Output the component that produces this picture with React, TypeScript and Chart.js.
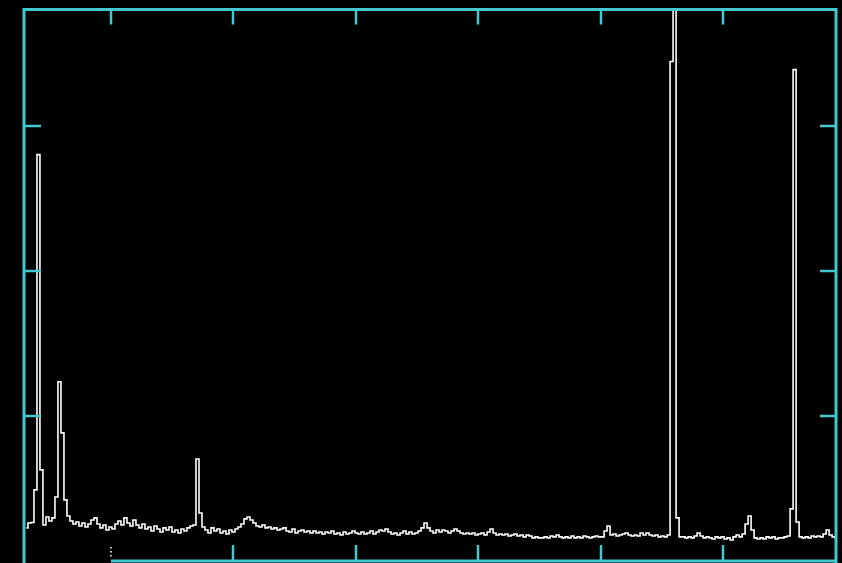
import React, { useEffect, useRef } from "react";
import { Chart, registerables } from "chart.js";

Chart.register(...registerables);

// Channel calibration (keV): energy of channel i = E0 + i * DE
const E0 = 0.31;
const DE = 0.0245;
const X_MIN = 0.29;
const X_MAX = 6.92;
const Y_MIN = 0;
const Y_MAX = 3800;

const X_TICKS = [1, 2, 3, 4, 5, 6];
const Y_TICKS = [1000, 2000, 3000];

// counts per channel
const COUNTS = [
  228, 262, 265, 490, 2800, 628, 248, 303, 276, 297,
  441, 1235, 883, 421, 310, 276, 255, 269, 241, 262,
  234, 255, 283, 297, 255, 228, 248, 214, 234, 221,
  255, 276, 248, 297, 262, 241, 283, 248, 228, 255,
  221, 234, 207, 241, 221, 200, 228, 214, 234, 200,
  214, 193, 221, 207, 228, 241, 248, 703, 331, 234,
  214, 193, 228, 207, 221, 193, 207, 186, 214, 200,
  221, 234, 255, 290, 303, 283, 262, 241, 234, 248,
  228, 234, 221, 228, 214, 221, 228, 207, 200, 221,
  193, 207, 214, 200, 207, 193, 207, 193, 200, 186,
  200, 193, 207, 186, 193, 179, 200, 186, 193, 207,
  193, 186, 200, 186, 193, 207, 186, 200, 214, 207,
  221, 200, 186, 193, 179, 193, 207, 186, 200, 186,
  193, 207, 228, 262, 228, 207, 193, 214, 200, 214,
  207, 193, 207, 221, 207, 193, 186, 193, 186, 193,
  179, 186, 193, 179, 200, 221, 193, 179, 186, 179,
  186, 172, 179, 186, 172, 179, 166, 179, 172, 159,
  166, 159, 159, 166, 159, 172, 166, 179, 166, 159,
  166, 159, 172, 159, 166, 159, 172, 166, 159, 166,
  172, 166, 166, 207, 241, 179, 186, 172, 179, 186,
  193, 179, 172, 179, 172, 193, 179, 193, 179, 172,
  179, 166, 172, 166, 179, 3442, 6000, 297, 166, 166,
  159, 166, 159, 172, 193, 172, 159, 166, 159, 152,
  166, 159, 166, 152, 159, 145, 166, 179, 166, 186,
  255, 310, 214, 159, 152, 159, 152, 166, 159, 166,
  152, 159, 159, 166, 172, 359, 3386, 269, 166, 159,
  166, 159, 172, 166, 172, 166, 186, 214, 179, 166,
  159,
];

const FRAME_COLOR = "#43c8d0";
const LINE_COLOR = "#ffffff";

const framePlugin = {
  id: "frame",
  beforeDraw(chart: any) {
    const { ctx, width, height } = chart;
    ctx.save();
    ctx.fillStyle = "#000000";
    ctx.fillRect(0, 0, width, height);
    ctx.restore();
  },
  afterDraw(chart: any) {
    const { ctx, chartArea } = chart;
    const { left, right, top, bottom } = chartArea;
    const xs = chart.scales.x;
    const ys = chart.scales.y;
    ctx.save();
    ctx.strokeStyle = FRAME_COLOR;
    ctx.lineWidth = 3;
    ctx.lineCap = "butt";
    const x1 = xs.getPixelForValue(X_TICKS[0]);
    ctx.beginPath();
    // left, top, right, bottom (bottom starts at first tick)
    ctx.moveTo(left, bottom + 2);
    ctx.lineTo(left, top);
    ctx.lineTo(right, top);
    ctx.lineTo(right, bottom + 2);
    ctx.moveTo(x1, bottom);
    ctx.lineTo(right, bottom);
    ctx.stroke();
    ctx.lineWidth = 2.5;
    X_TICKS.forEach((v, i) => {
      const px = Math.round(xs.getPixelForValue(v));
      ctx.beginPath();
      ctx.moveTo(px, top);
      ctx.lineTo(px, top + 15);
      ctx.stroke();
      if (i > 0) {
        ctx.beginPath();
        ctx.moveTo(px, bottom);
        ctx.lineTo(px, bottom - 16);
        ctx.stroke();
      }
    });
    Y_TICKS.forEach((v) => {
      const py = Math.round(ys.getPixelForValue(v));
      ctx.beginPath();
      ctx.moveTo(left, py);
      ctx.lineTo(left + 17, py);
      ctx.moveTo(right, py);
      ctx.lineTo(right - 16, py);
      ctx.stroke();
    });
    // dotted first bottom tick
    ctx.fillStyle = "#b8c8c8";
    for (let k = 0; k < 3; k++) {
      ctx.fillRect(x1 - 1, bottom - 14 + k * 4, 2, 1.5);
    }
    ctx.restore();
  },
};

export default function App() {
  const ref = useRef<HTMLCanvasElement | null>(null);
  useEffect(() => {
    document.body.style.margin = "0";
    document.body.style.background = "#000";
    const canvas = ref.current;
    if (!canvas) return;
    const data = COUNTS.map((c, i) => ({ x: E0 + i * DE, y: c }));
    const chart = new Chart(canvas, {
      type: "line",
      data: {
        datasets: [
          {
            data,
            borderColor: LINE_COLOR,
            borderWidth: 1.6,
            pointRadius: 0,
            stepped: "middle",
            fill: false,
          },
        ],
      },
      options: {
        animation: false,
        responsive: false,
        devicePixelRatio: 1,
        layout: { padding: { left: 24, right: 6, top: 9.5, bottom: 2 } },
        plugins: { legend: { display: false }, tooltip: { enabled: false } },
        scales: {
          x: { type: "linear", min: X_MIN, max: X_MAX, display: false },
          y: { type: "linear", min: Y_MIN, max: Y_MAX, display: false },
        },
      },
      plugins: [framePlugin],
    });
    return () => chart.destroy();
  }, []);
  return (
    <div style={{ position: "fixed", left: 0, top: 0, width: 842, height: 563, background: "#000" }}>
      <canvas ref={ref} width={842} height={563} style={{ display: "block" }} />
    </div>
  );
}
